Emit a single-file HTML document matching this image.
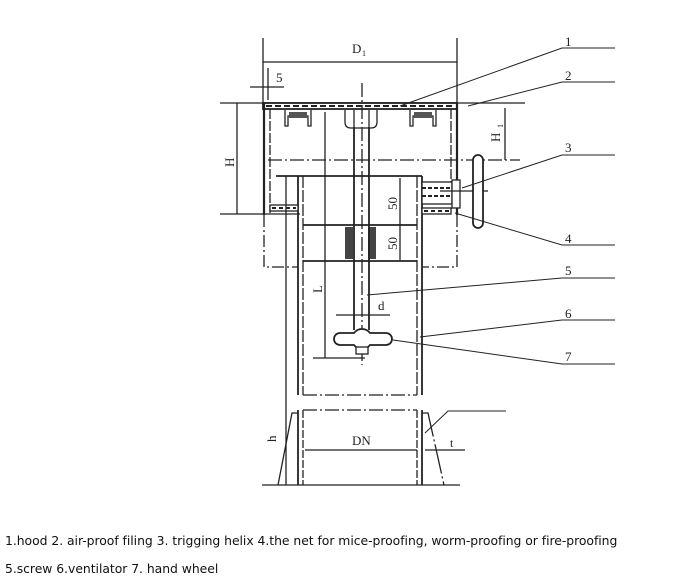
<!DOCTYPE html>
<html><head><meta charset="utf-8"><style>
html,body{margin:0;padding:0;background:#fff;width:700px;height:584px;overflow:hidden}
svg{position:absolute;left:0;top:0}
.t{position:absolute;left:5px;font-family:"DejaVu Sans","Liberation Sans",sans-serif;font-size:12.4px;letter-spacing:-0.04px;color:#111;white-space:nowrap}
</style></head><body>
<svg width="700" height="520" viewBox="0 0 700 520" font-family="Liberation Serif,serif" fill="none" stroke="#222" stroke-width="1.3">
<line x1="263" y1="38" x2="263" y2="105"/><line x1="457" y1="38" x2="457" y2="105"/>
<line x1="263" y1="62" x2="457" y2="62"/>
<text x="352" y="53" fill="#222" stroke="none" font-size="13">D</text><text x="362" y="56" fill="#222" stroke="none" font-size="8">1</text>
<line x1="268" y1="68" x2="268" y2="100"/>
<line x1="250" y1="87" x2="284" y2="87"/>
<text x="276" y="82" fill="#222" stroke="none" font-size="13">5</text>
<line x1="220" y1="103" x2="525" y2="103"/>
<rect x="263" y="103" width="194" height="6" fill="#fff" stroke-width="1.8"/>
<line x1="266" y1="106" x2="455" y2="106" stroke-dasharray="6 3" stroke-width="2"/>
<line x1="264" y1="103" x2="264" y2="215" stroke-width="2.2"/>
<line x1="270" y1="109" x2="270" y2="213" stroke-dasharray="10 2"/>
<line x1="457" y1="103" x2="457" y2="215" stroke-width="2.2"/>
<line x1="451" y1="109" x2="451" y2="205" stroke-dasharray="10 2"/>
<path d="M285 110 v16 h3 v-10 h20 v10 h3 v-16"/><rect x="289" y="112" width="18" height="6" fill="#555" stroke="none"/>
<path d="M410 110 v16 h3 v-10 h20 v10 h3 v-16"/><rect x="414" y="112" width="18" height="6" fill="#555" stroke="none"/>
<path d="M345 110 v12 q0 6 6 6 h20 q6 0 6 -6 v-12"/><line x1="354" y1="110" x2="354" y2="127"/><line x1="369" y1="110" x2="369" y2="127"/>
<line x1="220" y1="214" x2="300" y2="214"/>
<line x1="237" y1="103" x2="237" y2="214"/>
<text x="0" y="0" transform="translate(234,167) rotate(-90)" fill="#222" stroke="none" font-size="13">H</text>
<line x1="268" y1="160" x2="520" y2="160" stroke-dasharray="14 3 2 3"/>
<line x1="505" y1="108" x2="505" y2="160"/>
<text x="0" y="0" transform="translate(500,142) rotate(-90)" fill="#222" stroke="none" font-size="13">H</text>
<text x="0" y="0" transform="translate(503,128) rotate(-90)" fill="#222" stroke="none" font-size="8">1</text>
<line x1="276" y1="176" x2="422" y2="176" stroke-width="1.8"/>
<line x1="298" y1="176" x2="298" y2="395" stroke-width="1.8"/>
<line x1="303" y1="176" x2="303" y2="395" stroke-dasharray="12 2"/>
<line x1="422" y1="176" x2="422" y2="395" stroke-width="1.8"/>
<line x1="417" y1="176" x2="417" y2="395" stroke-dasharray="12 2"/>
<line x1="303" y1="225" x2="417" y2="225" stroke-width="1.8"/>
<line x1="303" y1="261" x2="417" y2="261" stroke-width="1.8"/>
<rect x="345" y="227" width="8" height="32" fill="#444" stroke="none"/>
<rect x="368" y="227" width="8" height="32" fill="#444" stroke="none"/>
<path d="M264 215 v52 h34 M457 215 v52 h-35" stroke-dasharray="12 3 2 3"/>
<rect x="270" y="205" width="28" height="6" fill="#fff"/><line x1="272" y1="208" x2="296" y2="208" stroke-dasharray="4 3" stroke-width="2"/>
<rect x="422" y="208" width="29" height="6" fill="#fff"/><line x1="424" y1="211" x2="449" y2="211" stroke-dasharray="4 3" stroke-width="2"/>
<line x1="400" y1="178" x2="400" y2="260"/>
<text x="0" y="0" transform="translate(397,210) rotate(-90)" fill="#222" stroke="none" font-size="13">50</text>
<text x="0" y="0" transform="translate(397,250) rotate(-90)" fill="#222" stroke="none" font-size="13">50</text>
<line x1="354" y1="127" x2="354" y2="330" stroke-width="1.8"/><line x1="369" y1="127" x2="369" y2="330" stroke-width="1.8"/>
<line x1="362" y1="83" x2="362" y2="365" stroke-dasharray="14 3 2 3"/>
<line x1="325" y1="112" x2="325" y2="358"/>
<line x1="313" y1="358" x2="365" y2="358"/>
<text x="0" y="0" transform="translate(322,293) rotate(-90)" fill="#222" stroke="none" font-size="13">L</text>
<line x1="286" y1="176" x2="286" y2="485"/>
<line x1="336" y1="315" x2="390" y2="315"/>
<text x="378" y="310" fill="#222" stroke="none" font-size="13">d</text>
<path d="M340 333 h14 a10 10 0 0 1 16 0 h16 a6 6 0 0 1 0 12 h-16 a10 10 0 0 1 -16 0 h-14 a6 6 0 0 1 0 -12z" stroke-width="1.8" fill="#fff"/>
<rect x="356" y="347" width="12" height="7" fill="#fff"/>
<rect x="422" y="182" width="30" height="22" fill="#fff"/>
<line x1="422" y1="188" x2="452" y2="188" stroke-dasharray="4 2" stroke-width="2"/>
<line x1="422" y1="196" x2="452" y2="196" stroke-dasharray="4 2" stroke-width="2"/>
<rect x="452" y="180" width="8" height="28" fill="#fff"/>
<line x1="440" y1="191" x2="488" y2="191"/>
<rect x="473" y="155" width="10" height="73" rx="5" fill="#fff" stroke-width="1.8"/>
<line x1="303" y1="395" x2="417" y2="395" stroke-dasharray="14 3 2 3"/>
<line x1="303" y1="410" x2="417" y2="410" stroke-dasharray="14 3 2 3"/>
<line x1="298" y1="410" x2="298" y2="485" stroke-width="1.8"/><line x1="303" y1="410" x2="303" y2="485" stroke-dasharray="8 2"/>
<line x1="422" y1="410" x2="422" y2="485" stroke-width="1.8"/><line x1="417" y1="410" x2="417" y2="485" stroke-dasharray="8 2"/>
<path d="M298 413 h-6 l-14 72" /><path d="M422 413 h6 l16 72" stroke-dasharray="30 3 2 3"/>
<line x1="262" y1="485" x2="460" y2="485"/>
<line x1="305" y1="450" x2="417" y2="450"/>
<text x="352" y="445" fill="#222" stroke="none" font-size="13">DN</text>
<line x1="425" y1="450" x2="465" y2="450"/>
<text x="450" y="447" fill="#222" stroke="none" font-size="12">t</text>
<text x="0" y="0" transform="translate(276,442) rotate(-90)" fill="#222" stroke="none" font-size="13">h</text>
<path d="M425 433 l23 -22 h58" stroke-width="1"/>
<g stroke-width="1">
<path d="M400 106 L562 48 H615"/><path d="M468 106 L562 82 H615"/>
<path d="M462 188 L562 155 H615"/><path d="M455 213 L562 245 H615"/>
<path d="M367 295 L562 278 H615"/><path d="M420 337 L562 320 H615"/>
<path d="M393 340 L562 364 H615"/>
</g>
<g fill="#222" stroke="none" font-size="13">
<text x="565" y="46">1</text><text x="565" y="80">2</text><text x="565" y="152">3</text>
<text x="565" y="243">4</text><text x="565" y="275">5</text><text x="565" y="318">6</text><text x="565" y="361">7</text>
</g>
</svg>
<div class="t" style="top:533px">1.hood 2. air-proof filing 3. trigging helix 4.the net for mice-proofing, worm-proofing or fire-proofing</div>
<div class="t" style="top:561px">5.screw 6.ventilator 7. hand wheel</div>
</body></html>
